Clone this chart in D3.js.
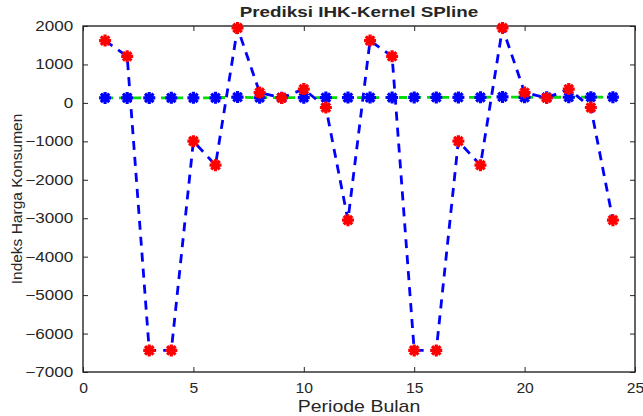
<!DOCTYPE html>
<html>
<head>
<meta charset="utf-8">
<script src="https://cdn.jsdelivr.net/npm/d3@7"></script>
<style>
body { margin: 0; background: #fff; }
text { font-family: "Liberation Sans", Arial, sans-serif; fill: #262626; }
</style>
</head>
<body>
<div id="chart"></div>
<script>
// periode 1..24
var periode = [1,2,3,4,5,6,7,8,9,10,11,12,13,14,15,16,17,18,19,20,21,22,23,24];
// IHK aktual (blue stars, green dashed line)
var aktual = [128,129,130,131,132,133,150,134,135,136,137,138,139,140,141,142,143,144,155,145,146,147,148,149];
// prediksi kernel spline (red stars, blue dashed line)
var prediksi = [1620,1210,-6440,-6440,-995,-1620,1950,270,130,360,-120,-3050,
                1620,1210,-6440,-6440,-995,-1620,1950,270,130,360,-120,-3050];
var xTicks = [0,5,10,15,20,25];
var yTicks = [2000,1000,0,-1000,-2000,-3000,-4000,-5000,-6000,-7000];

var W = 643, H = 416;
var margin = {top: 26, right: 8, bottom: 44, left: 83};
var width = W - margin.left - margin.right,
    height = H - margin.top - margin.bottom;
var stretch = 1.22; // the picture is wider than tall, text too

var svg = d3.select("#chart").append("svg")
    .attr("width", W)
    .attr("height", H);

var x = d3.scaleLinear().domain([0, 25]).range([0, width]);
var y = d3.scaleLinear().domain([-7000, 2000]).range([height, 0]);

var g = svg.append("g")
    .attr("transform", "translate(" + margin.left + "," + margin.top + ")");

// axes, MATLAB style: ticks inward on all four sides
var axColor = "#262626";
function styleAxis(sel, sx) {
  sel.select(".domain").remove();
  sel.selectAll("line").attr("stroke", axColor);
  sel.selectAll("text")
    .style("font-size", "14px")
    .attr("fill", axColor)
    .attr("transform", "scale(" + (sx || stretch) + ",1)");
}

g.append("g")
    .attr("transform", "translate(0," + height + ")")
    .call(d3.axisBottom(x).tickValues(xTicks).tickSize(-5).tickPadding(11).tickFormat(d3.format("d")))
    .call(styleAxis, 1.12);
g.append("g")
    .call(d3.axisTop(x).tickValues(xTicks).tickSize(-5).tickFormat(""))
    .call(styleAxis);
g.append("g")
    .call(d3.axisLeft(y).tickValues(yTicks).tickSize(-5).tickPadding(8).tickFormat(d3.format("d")))
    .call(styleAxis);
g.append("g")
    .attr("transform", "translate(" + width + ",0)")
    .call(d3.axisRight(y).tickValues(yTicks).tickSize(-5).tickFormat(""))
    .call(styleAxis);

g.append("rect")
    .attr("width", width)
    .attr("height", height)
    .attr("fill", "none")
    .attr("stroke", axColor)
    .attr("stroke-width", 1.4);

// asterisk marker
function star(cx, cy, r) {
  var p = "";
  [0, 45, 90, 135].forEach(function(a) {
    var t = a * Math.PI / 180, dx = r * Math.cos(t), dy = r * Math.sin(t);
    p += "M" + (cx - dx) + "," + (cy - dy) + "L" + (cx + dx) + "," + (cy + dy);
  });
  return p;
}

var lineAktual = d3.line()
    .x(function(d, i) { return x(periode[i]); })
    .y(function(d) { return y(d); });

// aktual: green dashed + blue stars
g.append("path")
    .datum(aktual)
    .attr("fill", "none")
    .attr("stroke", "#00dd00")
    .attr("stroke-width", 2.8)
    .attr("stroke-dasharray", "8,6")
    .attr("d", lineAktual);

g.selectAll(".sAktual")
    .data(aktual)
  .enter().append("path")
    .attr("class", "sAktual")
    .attr("fill", "none")
    .attr("stroke", "#0000ff")
    .attr("stroke-width", 3.2)
    .attr("d", function(d, i) { return star(x(periode[i]), y(d), 6); });

// prediksi: blue dashed + red stars
g.append("path")
    .datum(prediksi)
    .attr("fill", "none")
    .attr("stroke", "#0000ff")
    .attr("stroke-width", 2.8)
    .attr("stroke-dasharray", "9,7")
    .attr("d", lineAktual);

g.selectAll(".sPred")
    .data(prediksi)
  .enter().append("path")
    .attr("class", "sPred")
    .attr("fill", "none")
    .attr("stroke", "#ff0000")
    .attr("stroke-width", 3.2)
    .attr("d", function(d, i) { return star(x(periode[i]), y(d), 6); });

// texts
svg.append("text")
    .attr("transform", "translate(" + (margin.left + width / 2) + ",17) scale(1.3,1)")
    .attr("text-anchor", "middle")
    .style("font-size", "14.5px")
    .style("font-weight", "bold")
    .attr("fill", "#000")
    .text("Prediksi IHK-Kernel SPline");

svg.append("text")
    .attr("transform", "translate(" + (margin.left + width / 2) + ",412) scale(" + stretch + ",1)")
    .attr("text-anchor", "middle")
    .style("font-size", "16px")
    .text("Periode Bulan");

svg.append("text")
    .attr("transform", "translate(22," + (margin.top + height / 2) + ") rotate(-90)")
    .attr("text-anchor", "middle")
    .style("font-size", "15.5px")
    .text("Indeks Harga Konsumen");
</script>
</body>
</html>
